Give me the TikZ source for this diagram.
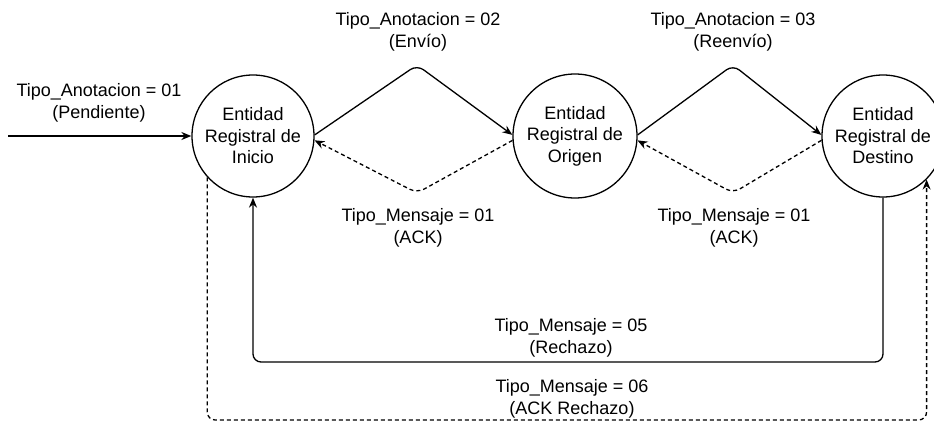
\documentclass[tikz,border=0pt]{standalone}
\usepackage{fontspec}
\setmainfont{Liberation Sans}
\usetikzlibrary{arrows.meta}
\begin{document}
\begin{tikzpicture}[x=1pt,y=-1pt,
  every node/.style={font=\fontsize{18}{21.5}\selectfont, align=center, inner sep=0pt},
  entity/.style={circle, draw, line width=1.3pt, minimum size=122pt},
  conn/.style={line width=1.3pt, rounded corners=8pt},
  tip/.style={-{Stealth[length=10pt,width=8pt]}},
  dashline/.style={dash pattern=on 4pt off 3pt},
  lbl/.style={}]
\useasboundingbox (0,0) rectangle (934,423);
\node[entity] (ini) at (253,136) {Entidad\\Registral de\\Inicio};
\node[entity, minimum size=124pt] (ori) at (575,136) {Entidad\\Registral de\\Origen};
\node[entity] (des) at (883,136) {Entidad\\Registral de\\Destino};
\coordinate (in) at (8,136);
\coordinate (p1) at (417,65);
\coordinate (q1) at (417,193);
\coordinate (p2) at (733,65);
\coordinate (q2) at (733,193);
\coordinate (rb) at (0,362);
\coordinate (ab) at (0,420);
% connectors
\draw[conn,tip] (in) -- (ini.west);
\draw[conn,tip] (ini.1) -- (p1) -- (ori.179);
\draw[conn,tip,dashline] (ori.184) -- (q1) -- (ini.356);
\draw[conn,tip] (ori.1) -- (p2) -- (des.179);
\draw[conn,tip,dashline] (des.184) -- (q2) -- (ori.356);
\draw[conn,tip] (des.south) -- (des.south |- rb) -- (ini.south |- rb) -- (ini.south);
\draw[conn,tip,dashline] (ini.222) -- (ini.222 |- ab) -- (des.315 |- ab) -- (des.315);
% labels
\node[lbl] (l01) at (99,103) {Tipo\_Anotacion = 01\\(Pendiente)};
\node[lbl] (l02) at (418,32) {Tipo\_Anotacion = 02\\(Envío)};
\node[lbl] (l03) at (733,32) {Tipo\_Anotacion = 03\\(Reenvío)};
\node[lbl] (m01a) at (418,228) {Tipo\_Mensaje = 01\\(ACK)};
\node[lbl] (m01b) at (734,228) {Tipo\_Mensaje = 01\\(ACK)};
\node[lbl] (m05) at (571,338) {Tipo\_Mensaje = 05\\(Rechazo)};
\node[lbl] (m06) at (572,399) {Tipo\_Mensaje = 06\\(ACK Rechazo)};
\end{tikzpicture}
\end{document}
